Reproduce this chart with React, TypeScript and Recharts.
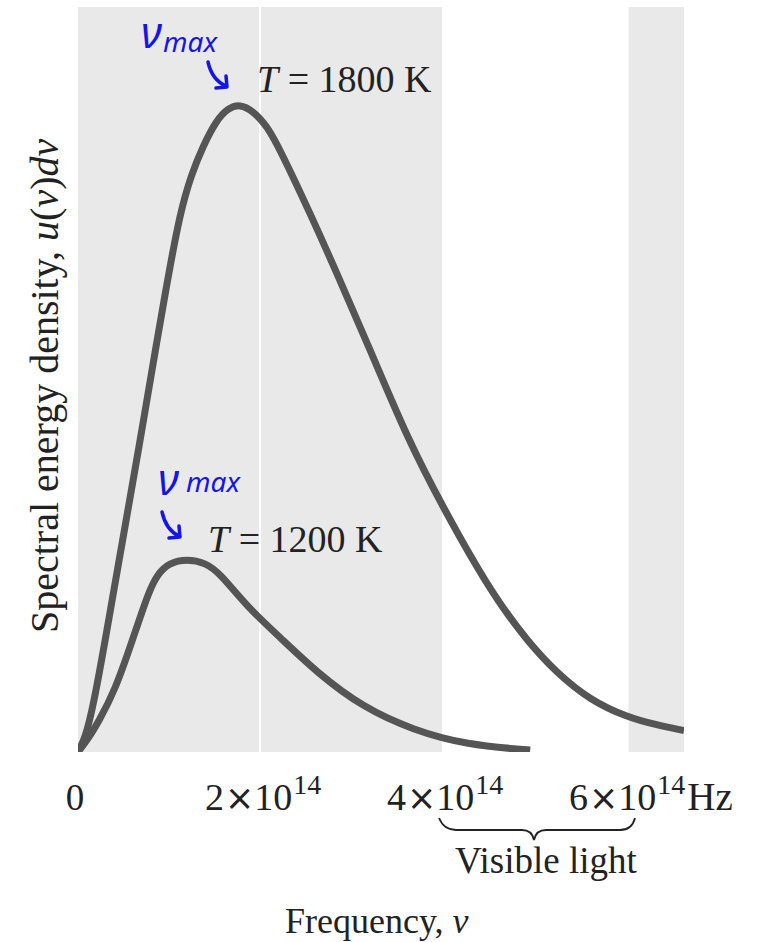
import { LineChart, Line, XAxis, YAxis, ReferenceArea, ReferenceLine } from 'recharts';

// frequency in units of 10^14 Hz, spectral energy density in arbitrary units
const nu1800 = [0, 0.08, 0.165, 0.3, 0.49, 0.67, 0.88, 0.98, 1.12, 1.25, 1.37, 1.52, 1.65, 1.78, 1.92, 2.08, 2.22, 2.55, 2.88, 3.2, 3.63, 4.01, 4.42, 4.66, 4.93, 5.26, 5.63, 6.03, 6.35, 6.66];
const u1800 = [0, 2.2, 6.9, 17.3, 32.7, 47, 64.5, 72.5, 83.2, 89.3, 93.4, 97.5, 99.4, 100, 99.0, 96.6, 93.0, 83.2, 72.8, 62.4, 48.1, 37.8, 27.6, 22.4, 17.3, 12.2, 8.0, 5.4, 4.2, 3.3];

const nu1200 = [0, 0.1, 0.22, 0.41, 0.6, 0.77, 0.87, 1.0, 1.2, 1.4, 1.56, 1.86, 2.22, 2.63, 3.13, 3.68, 4.27, 4.97];
const u1200 = [0, 1.8, 4.5, 9.6, 17.3, 24.5, 27.4, 29.2, 29.8, 29.2, 27.6, 22.4, 17.7, 12.2, 6.9, 3.4, 1.1, 0.3];

const freqTicks = [0, 2, 4, 6];
const visibleBand = [4, 6.05];

const curve1800 = nu1800.map((nu, i) => ({ nu, u: u1800[i] }));
const curve1200 = nu1200.map((nu, i) => ({ nu, u: u1200[i] }));

const serif = '"Liberation Serif", "DejaVu Serif", serif';
const ink = '#222';
const curveColor = '#555';
const shade = '#e9e9e9';
const pen = '#1515e6';

const FreqTick = (props: any) => {
  const { x, y, payload } = props;
  const v = payload.value;
  if (v === 0) {
    return (
      <text x={x - 3} y={y + 58} textAnchor="middle" fontFamily={serif} fontSize={37} fill={ink}>
        0
      </text>
    );
  }
  return (
    <text x={x - 55} y={y + 58} fontFamily={serif} fontSize={38} fill={ink}>
      {v}
      <tspan dx={1} fontFamily='"DejaVu Sans", sans-serif' fontSize={35}>×</tspan>
      10
      <tspan dx={1} dy={-16} fontSize={28}>14</tspan>
      {v === 6 && <tspan dx={2} dy={16} fontSize={39}>Hz</tspan>}
    </text>
  );
};

const App = () => {
  return (
    <div style={{ position: 'absolute', left: 0, top: 0, width: 762, height: 942, background: '#fff' }}>
      <LineChart width={762} height={942} margin={{ top: 7, right: 78, bottom: 160, left: 78 }}>
        <XAxis
          type="number"
          dataKey="nu"
          domain={[0, 6.66]}
          ticks={freqTicks}
          tick={<FreqTick />}
          tickLine={false}
          axisLine={false}
          tickSize={0}
          tickMargin={0}
          height={30}
          allowDataOverflow
        />
        <YAxis type="number" domain={[0, 115]} hide allowDataOverflow />
        <ReferenceArea x1={0} x2={visibleBand[0]} y1={0} y2={115} fill={shade} fillOpacity={1} stroke="none" />
        <ReferenceArea x1={visibleBand[1]} x2={6.66} y1={0} y2={115} fill={shade} fillOpacity={1} stroke="none" />
        <ReferenceLine x={2} stroke="#fff" strokeWidth={2} />
        <Line
          data={curve1800}
          dataKey="u"
          type="basis"
          stroke={curveColor}
          strokeWidth={7}
          dot={false}
          isAnimationActive={false}
        />
        <Line
          data={curve1200}
          dataKey="u"
          type="basis"
          stroke={curveColor}
          strokeWidth={7}
          dot={false}
          isAnimationActive={false}
        />
      </LineChart>
      <svg
        width={762}
        height={942}
        style={{ position: 'absolute', left: 0, top: 0, pointerEvents: 'none' }}
        fontFamily={serif}
        fill={ink}
      >
        <text x={257} y={92} fontSize={38}>
          <tspan fontStyle="italic">T</tspan> = 1800 K
        </text>
        <text x={208} y={552} fontSize={38}>
          <tspan fontStyle="italic">T</tspan> = 1200 K
        </text>
        <text transform="translate(58, 633) rotate(-90)" fontSize={40}>
          Spectral energy density, <tspan fontStyle="italic">u</tspan>(<tspan fontStyle="italic">ν</tspan>)
          <tspan fontStyle="italic">dν</tspan>
        </text>
        <text x={285} y={933} fontSize={36}>
          Frequency, <tspan fontStyle="italic">ν</tspan>
        </text>
        <text x={455} y={873} fontSize={37}>
          Visible light
        </text>
        <path
          d="M 439 818 Q 444 830 456 830 L 522 830 Q 532 830 534 840 Q 536 830 546 830 L 620 830 Q 632 830 635 818"
          fill="none"
          stroke={ink}
          strokeWidth={1.8}
        />
        <g fill={pen} stroke="none" fontFamily='"Noto Sans", sans-serif' fontStyle="italic">
          <text x={141} y={48} fontSize={44}>ν</text>
          <text x={163} y={52} fontSize={28}>max</text>
          <text x={158} y={495} fontSize={44}>ν</text>
          <text x={186} y={492} fontSize={28}>max</text>
        </g>
        <g fill="none" stroke={pen} strokeWidth={3.5} strokeLinecap="round" strokeLinejoin="round">
          <path d="M 208 62 Q 212 80 226 86 M 216 88 L 227 87 L 226 76" />
          <path d="M 162 512 Q 166 530 179 536 M 169 538 L 180 537 L 179 526" />
        </g>
      </svg>
    </div>
  );
};

export default App;
